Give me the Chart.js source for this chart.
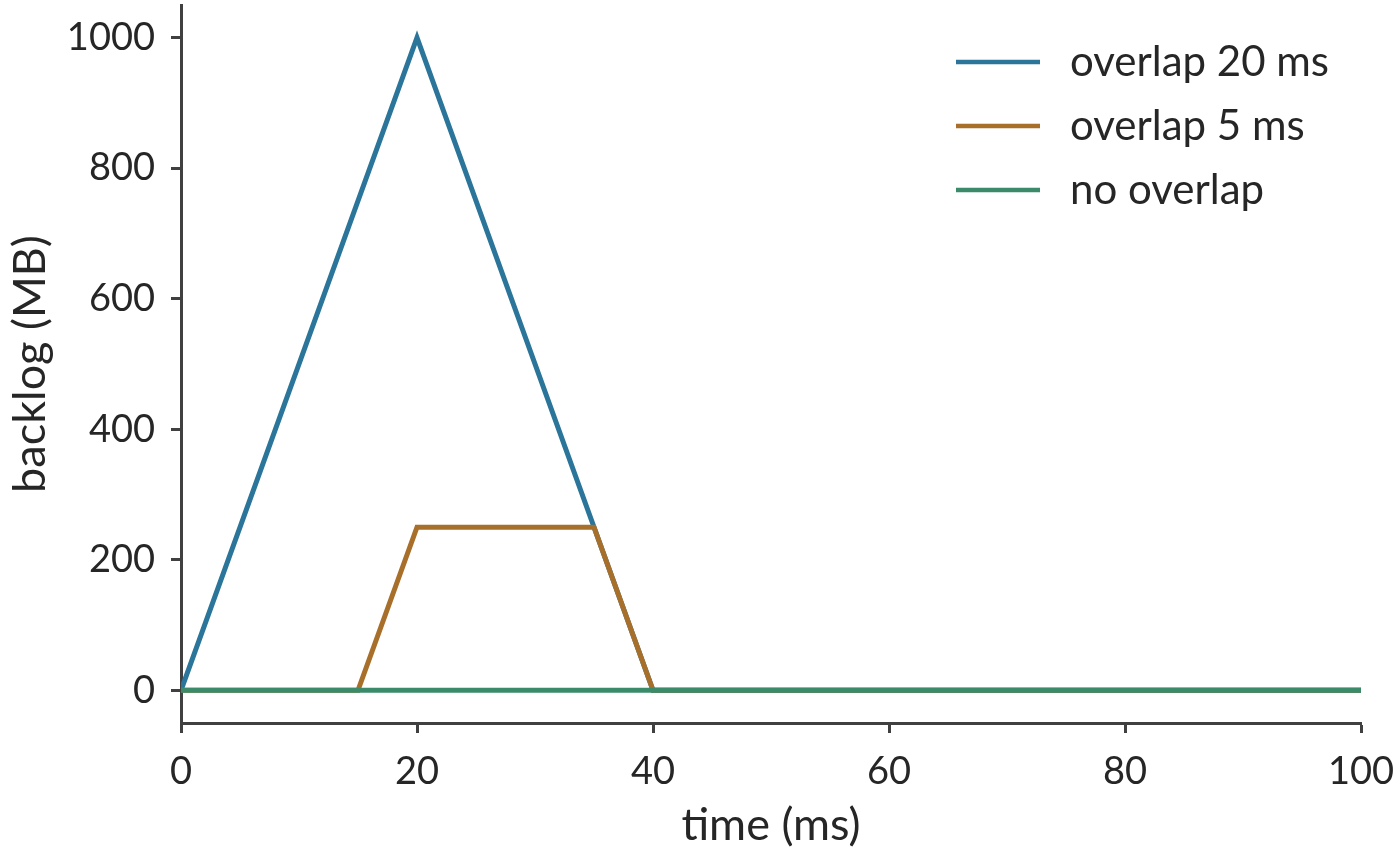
<!DOCTYPE html>
<html>
<head>
<meta charset="utf-8">
<script src="https://cdn.jsdelivr.net/npm/chart.js@4"></script>
<style>
  html, body { margin: 0; padding: 0; background: #ffffff; }
  #wrap { width: 1400px; height: 856px; }
</style>
</head>
<body>
<div id="wrap"><canvas id="c" width="1400" height="856"></canvas></div>
<script>
// ---- data ----
const seriesLabels = ["overlap 20 ms", "overlap 5 ms", "no overlap"];
const time20 = [0, 20, 40, 100];
const backlog20 = [0, 1000, 0, 0];
const time5 = [0, 15, 20, 35, 40, 100];
const backlog5 = [0, 0, 250, 250, 0, 0];
const timeNo = [0, 100];
const backlogNo = [0, 0];
const xTicks = [0, 20, 40, 60, 80, 100];
const yTicks = [0, 200, 400, 600, 800, 1000];
const xTitle = "time (ms)";
const yTitle = "backlog (MB)";

const colors = ["#2a7599", "#a86f2a", "#3b8b6b"];
const FONT = "Lato";
const AXIS = "#404040";
const TXT = "#262626";

function pts(xs, ys) { return xs.map((x, i) => ({ x: x, y: ys[i] })); }

const legendPlugin = {
  id: "customLegend",
  afterDraw(chart) {
    const ctx = chart.ctx;
    const ca = chart.chartArea;
    ctx.save();
    chart.data.datasets.forEach((ds, i) => {
      const y = 62 + i * 64;
      const x0 = ca.right - 405;
      ctx.strokeStyle = ds.borderColor;
      ctx.lineWidth = 4.5;
      ctx.beginPath();
      ctx.moveTo(x0, y);
      ctx.lineTo(x0 + 84, y);
      ctx.stroke();
      ctx.fillStyle = TXT;
      ctx.font = "42px " + FONT;
      ctx.textBaseline = "middle";
      ctx.textAlign = "left";
      ctx.fillText(ds.label, x0 + 114, y);
    });
    ctx.restore();
  }
};

new Chart(document.getElementById("c"), {
  type: "line",
  data: {
    datasets: [
      { label: seriesLabels[0], data: pts(time20, backlog20), borderColor: colors[0], backgroundColor: colors[0], order: 2 },
      { label: seriesLabels[1], data: pts(time5, backlog5), borderColor: colors[1], backgroundColor: colors[1], order: 1 },
      { label: seriesLabels[2], data: pts(timeNo, backlogNo), borderColor: colors[2], backgroundColor: colors[2], order: 0 }
    ]
  },
  options: {
    responsive: false,
    animation: false,
    devicePixelRatio: 1,
    layout: { padding: { top: 5, right: 39, left: 0, bottom: 0 } },
    elements: {
      line: { borderWidth: 5, tension: 0, borderJoinStyle: "miter", borderCapStyle: "butt" },
      point: { radius: 0, hoverRadius: 0 }
    },
    plugins: { legend: { display: false }, tooltip: { enabled: false } },
    scales: {
      x: {
        type: "linear",
        min: 0, max: 100,
        afterBuildTicks: (s) => { s.ticks = xTicks.map(v => ({ value: v })); },
        afterFit: (s) => { s.height = 133; s.paddingLeft = 0; s.paddingRight = 0; },
        grid: { display: true, drawOnChartArea: false, drawTicks: true, tickLength: 10, tickWidth: 3, tickColor: AXIS },
        border: { display: true, color: AXIS, width: 3 },
        ticks: { color: TXT, font: { family: FONT, size: 38 }, padding: 16, maxRotation: 0, callback: (v) => String(v) },
        title: { display: true, text: xTitle, color: TXT, font: { family: FONT, size: 45 }, padding: { top: 0, bottom: 4 } }
      },
      y: {
        type: "linear",
        min: -50, max: 1050,
        afterBuildTicks: (s) => { s.ticks = yTicks.map(v => ({ value: v })); },
        afterFit: (s) => { s.width = 181; s.paddingTop = 0; s.paddingBottom = 0; },
        grid: { display: true, drawOnChartArea: false, drawTicks: true, tickLength: 10, tickWidth: 3, tickColor: AXIS },
        border: { display: true, color: AXIS, width: 3 },
        ticks: { color: TXT, font: { family: FONT, size: 38 }, padding: 16, callback: (v) => String(v) },
        title: { display: true, text: yTitle, color: TXT, font: { family: FONT, size: 45 }, padding: { top: 3, bottom: 0 } }
      }
    }
  },
  plugins: [legendPlugin]
});
</script>
</body>
</html>
